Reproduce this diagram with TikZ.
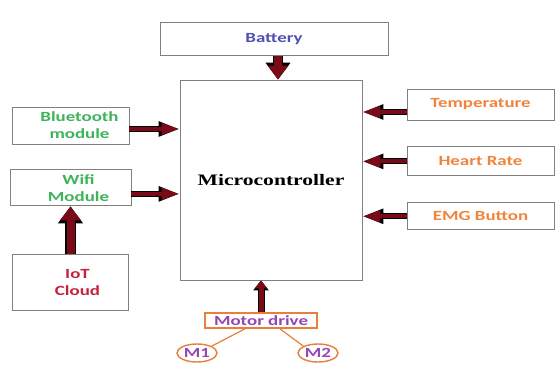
\documentclass[tikz,border=0pt]{standalone}
\usepackage{fontspec}
\newfontfamily\labelfont[FakeStretch=1.35]{Carlito}
\newfontfamily\chipfont[FakeStretch=1.35]{Liberation Serif}
\usetikzlibrary{arrows.meta,positioning,shapes.geometric}

\definecolor{arrowred}{HTML}{7A0A18}
\definecolor{battblue}{HTML}{5050B0}
\definecolor{modgreen}{HTML}{3CB45A}
\definecolor{cloudred}{HTML}{C8203C}
\definecolor{sensorange}{HTML}{F0843C}
\definecolor{motorpurple}{HTML}{9646B4}
\definecolor{motororange}{HTML}{E8803C}

\begin{document}
\begin{tikzpicture}[
  x=1pt, y=-1pt,
  font=\labelfont\bfseries\fontsize{14}{17}\selectfont,
  box/.style={draw=black!50, line width=0.9pt, align=center, fill=white, inner sep=2pt},
  motorbox/.style={draw=motororange, line width=1.4pt, text=motorpurple, fill=white, inner sep=1pt},
  bigarrow/.style={draw=arrowred, line width=8pt, -{Triangle[length=14pt,width=20pt]},
    preaction={draw=black, line width=10.5pt, -{Triangle[length=17pt,width=24pt]}}},
  sidearrow/.style={draw=arrowred, line width=4pt, -{Triangle[length=18pt,width=11pt]},
    preaction={draw=black, line width=6pt, -{Triangle[length=21pt,width=14pt]}}},
  motorarrow/.style={draw=arrowred, line width=5pt, -{Triangle[length=8pt,width=12pt]},
    preaction={draw=black, line width=7pt, -{Triangle[length=10pt,width=15pt]}}},
  wire/.style={draw=motororange, line width=1.2pt}
]
\useasboundingbox (0,0) rectangle (558,371);

\node[box, minimum width=182pt, minimum height=200pt,
  font=\chipfont\bfseries\fontsize{16}{19}\selectfont] (micro) at (271,180) {Microcontroller};
\node[box, minimum width=228pt, minimum height=33pt, text=battblue,
  above=24pt of micro, xshift=3pt] (battery) {Battery};

% inputs on the left
\node[box, minimum width=117pt, minimum height=37pt, text=modgreen] (bt) at (70.5,125.5)
  {\hspace*{18pt}Bluetooth\\\hspace*{18pt}module};
\node[box, minimum width=121pt, minimum height=36pt, text=modgreen, below=25pt of bt] (wifi)
  {\hspace*{16pt}Wifi\\\hspace*{16pt}Module};
\node[box, minimum width=116pt, minimum height=56pt, text=cloudred, below=48pt of wifi] (iot)
  {\hspace*{14pt}IoT\\\hspace*{14pt}Cloud};

% sensors on the right
\node[box, minimum width=147pt, minimum height=31pt, text=sensorange] (temp) at (480.5,104.5) {Temperature};
\node[box, minimum width=147pt, minimum height=29pt, text=sensorange, below=26pt of temp] (heart) {Heart Rate};
\node[box, minimum width=147pt, minimum height=27pt, text=sensorange, below=26pt of heart] (emg) {EMG Button};

% motors
\node[motorbox, minimum width=112pt, minimum height=15pt, below=32pt of micro, xshift=-10pt] (motor) {Motor drive};
\node[motorbox, ellipse, minimum width=40pt, minimum height=18pt] (m1) at (197,353) {M1};
\node[motorbox, ellipse, minimum width=40pt, minimum height=18pt] (m2) at (318,353) {M2};

\draw[bigarrow] ([xshift=4pt]battery.south) -- ([xshift=4pt]battery.south |- micro.north);
\draw[bigarrow] (iot.north) -- (iot.north |- wifi.south);
\draw[sidearrow] ([yshift=-3.5pt]bt.east) -- ([yshift=-3.5pt]bt.east -| micro.west);
\draw[sidearrow] ([yshift=-6pt]wifi.east) -- ([yshift=-6pt]wifi.east -| micro.west);
\draw[sidearrow] ([yshift=-7.5pt]temp.west) -- ([yshift=-7.5pt]temp.west -| micro.east);
\draw[sidearrow] (heart.west) -- (heart.west -| micro.east);
\draw[sidearrow] (emg.west) -- (emg.west -| micro.east);
\draw[motorarrow] (motor.north) -- (motor.north |- micro.south);
\draw[wire] ([xshift=-16pt]motor.south) -- (m1.north east);
\draw[wire] ([xshift=19pt]motor.south) -- (m2.north west);

\end{tikzpicture}
\end{document}
